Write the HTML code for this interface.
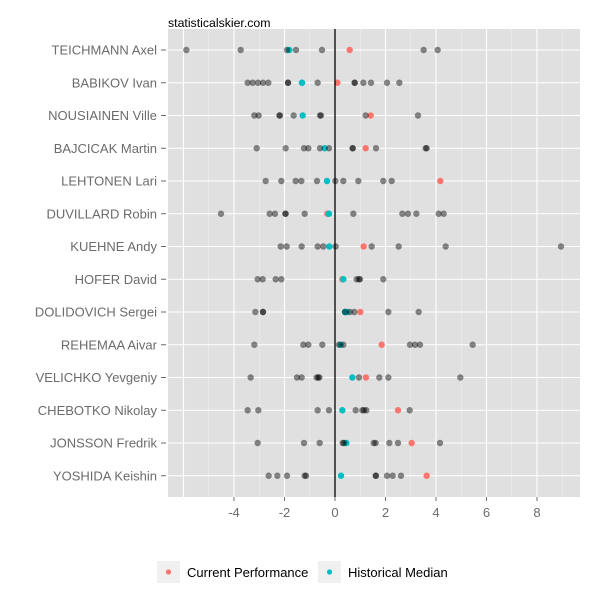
<!DOCTYPE html>
<html><head><meta charset="utf-8"><style>
body{margin:0;background:#fff;}
svg{display:block;font-family:"Liberation Sans",sans-serif;}
</style></head><body>
<svg id="s" width="600" height="600" xmlns="http://www.w3.org/2000/svg">
<rect x="0" y="0" width="600" height="600" fill="#fff"/>
<rect x="168" y="29" width="412" height="468" fill="#e0e0e0"/>
<g id="grid"></g>
<g id="dots"></g>
<text x="168" y="27" font-size="12.3" fill="#000">statisticalskier.com</text>
<g id="lab" font-size="13" fill="#6b6b6b" text-anchor="end"></g>
<g id="xl" font-size="13" fill="#6b6b6b" text-anchor="middle"></g>
<rect x="157" y="561" width="23" height="22" fill="#f0f0f0"/>
<circle cx="168.5" cy="572" r="2.6" fill="#f8766d"/>
<text x="187" y="577" font-size="13" fill="#000">Current Performance</text>
<rect x="318" y="561" width="23" height="22" fill="#f0f0f0"/>
<circle cx="329.5" cy="572" r="2.6" fill="#00bfc4"/>
<text x="348" y="577" font-size="13" fill="#000">Historical Median</text>
</svg>
<script>
var NS="http://www.w3.org/2000/svg";
function el(p,t,a,txt){var e=document.createElementNS(NS,t);for(var k in a)e.setAttribute(k,a[k]);if(txt)e.textContent=txt;document.getElementById(p).appendChild(e);return e;}
var x0=335,u=25.25;
for(var v=-6;v<=9;v++){var x=x0+v*u;if(x<168||x>580)continue;
 el("grid","line",{x1:x,x2:x,y1:29,y2:497,stroke:v%2==0?"#fff":"#f0f0f0","stroke-width":v%2==0?1.1:0.5});
 if(v%2==0&&v>=-4&&v<=8){el("xl","text",{x:x,y:517},String(v));el("grid","line",{x1:x,x2:x,y1:497,y2:501,stroke:"#6b6b6b"});}}
var names=["TEICHMANN Axel","BABIKOV Ivan","NOUSIAINEN Ville","BAJCICAK Martin","LEHTONEN Lari","DUVILLARD Robin","KUEHNE Andy","HOFER David","DOLIDOVICH Sergei","REHEMAA Aivar","VELICHKO Yevgeniy","CHEBOTKO Nikolay","JONSSON Fredrik","YOSHIDA Keishin"];
var rows=[
[[79,242,381,408,486,791,833],[388],[569]],
[[263,278,294,309,325,384,384,473,584,584,610,633,681,718],[426,426],[532]],
[[283,296,358,360,401,480,483,617,774],[428],[632]],
[[290,377,432,445,480,507,578,578,648,797,800],[494],[617]],
[[317,364,407,424,471,526,550,595,670,695],[501],[841]],
[[183,329,345,376,377,434,580,727,744,769,836,851],[507],[502]],
[[362,380,425,473,490,527,635,716,857,1203],[508],[611]],
[[293,308,347,364,590,597,600,670],[550],[547]],
[[286,309,309,555,570,583,685,776],[561,555],[601]],
[[283,430,445,487,537,550,750,765,780,938],[542],[665]],
[[272,411,425,470,475,478,597,658,685,901],[577],[618]],
[[263,295,473,507,587,607,612,619,749],[547],[714]],
[[293,432,479,548,552,641,647,688,714,840],[559],[755]],
[[326,352,381,434,438,647,648,681,698,723],[543],[800]]];
for(var i=0;i<14;i++){var y=50+i*32.75;
 el("grid","line",{x1:168,x2:580,y1:y,y2:y,stroke:"#fff","stroke-width":1.1});
 el("grid","line",{x1:161,x2:166,y1:y,y2:y,stroke:"#6b6b6b"});
 el("lab","text",{x:157,y:y+4.6},names[i]);
 var r=rows[i];
 r[2].forEach(function(z){el("dots","circle",{cx:160+z/3,cy:y,r:3.2,fill:"#f8766d"});});
 r[1].forEach(function(z){el("dots","circle",{cx:160+z/3,cy:y,r:3.2,fill:"#00bfc4"});});
 r[0].forEach(function(z){el("dots","circle",{cx:160+z/3,cy:y,r:3.2,fill:"#000","fill-opacity":0.45});});
}
el("dots","line",{x1:x0,x2:x0,y1:29,y2:497,stroke:"#000","stroke-width":1.3});
</script>
</body></html>
